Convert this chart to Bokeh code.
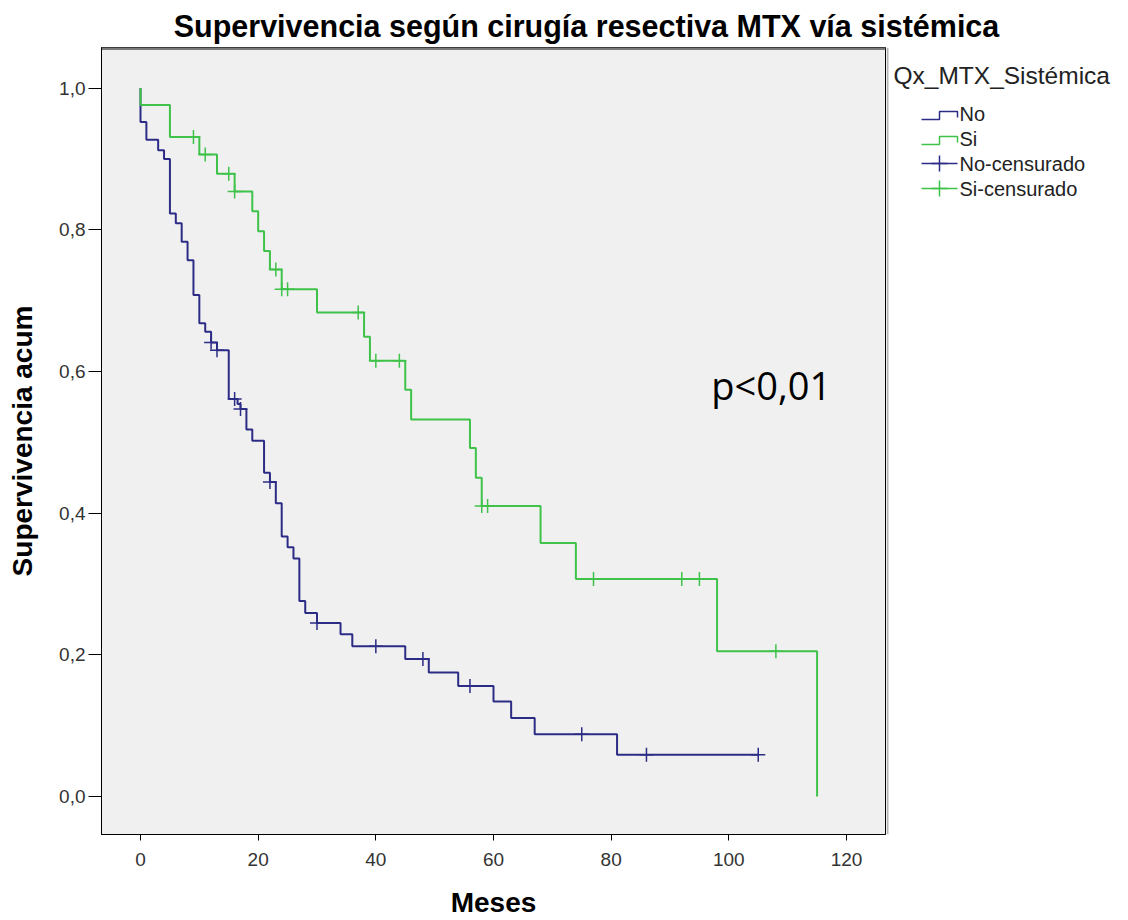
from bokeh.core.properties import value
from bokeh.embed import file_html
from bokeh.layouts import column, row
from bokeh.models import CustomJSTickFormatter, FixedTicker, Label, Range1d
from bokeh.plotting import figure
from bokeh.resources import INLINE

# Kaplan-Meier estimate, group "No": event times (months) and survival after each step
no_time = [0, 0, 1, 3, 4, 5, 6, 7, 8, 9, 10, 11, 12, 13, 15, 16.5, 17, 18, 19, 21,
           22, 23, 24, 25, 26, 27, 28, 30, 34, 36, 45, 49, 54, 60, 63, 67, 81, 105]
no_surv = [1.0, 0.952, 0.927, 0.912, 0.900, 0.823, 0.809, 0.783, 0.757, 0.708,
           0.668, 0.656, 0.641, 0.630, 0.561, 0.554, 0.547, 0.518, 0.502, 0.457,
           0.444, 0.414, 0.367, 0.352, 0.336, 0.276, 0.259, 0.245, 0.229, 0.212,
           0.194, 0.175, 0.156, 0.134, 0.111, 0.088, 0.059, 0.059]
no_cens_time = [12, 13, 16, 17, 22, 30, 40, 48, 56, 75, 86, 105]
no_cens_surv = [0.641, 0.630, 0.561, 0.547, 0.444, 0.245, 0.212, 0.194, 0.156,
                0.088, 0.059, 0.059]

# Group "Si"
si_time = [0, 0, 5, 10, 13, 16, 19, 20, 21, 22, 24, 30, 38, 39, 45, 46, 56, 57, 58,
           68, 74, 98, 115]
si_surv = [1.0, 0.976, 0.931, 0.906, 0.879, 0.854, 0.826, 0.798, 0.770, 0.744,
           0.716, 0.683, 0.649, 0.615, 0.574, 0.532, 0.492, 0.450, 0.410, 0.358,
           0.307, 0.205, 0.0]
si_cens_time = [9, 11, 15, 16, 23, 24, 25, 37, 40, 44, 58, 59, 77, 92, 95, 108]
si_cens_surv = [0.931, 0.906, 0.879, 0.854, 0.744, 0.716, 0.716, 0.683, 0.615,
                0.615, 0.410, 0.410, 0.307, 0.307, 0.307, 0.205]

x_ticks = [0, 20, 40, 60, 80, 100, 120]
y_ticks = [0.0, 0.2, 0.4, 0.6, 0.8, 1.0]
chart_title = "Supervivencia según cirugía resectiva MTX vía sistémica"
legend_title = "Qx_MTX_Sistémica"
legend_labels = ["No", "Si", "No-censurado", "Si-censurado"]

BLUE = "#2c2c86"
GREEN = "#3fc24a"
FONT = "Liberation Sans"

# page geometry (pixels)
W, H = 1128, 920
HEAD = 47            # height of the title strip
LEFT = 101           # left edge of the plotting box
BOX_RIGHT = 885      # right edge of the plotting box
BOTTOM = 86          # space under the plotting box
MAIN_W = BOX_RIGHT + 1
MAIN_H = H - HEAD

# ---------------- title strip ----------------
head = figure(width=W, height=HEAD, output_backend="svg", toolbar_location=None,
              x_range=Range1d(0, W), y_range=Range1d(HEAD, 0), min_border=0,
              x_axis_type=None, y_axis_type=None, title=None)
head.outline_line_color = None
head.grid.visible = False
head.text(x=[586], y=[25], text=[chart_title], text_font=value(FONT),
          text_font_style="bold", text_font_size="30.5px", text_color="black",
          text_align="center", text_baseline="middle")

# ---------------- survival plot ----------------
p = figure(
    width=MAIN_W, height=MAIN_H, output_backend="svg", toolbar_location=None,
    x_range=Range1d(-6.63, 126.63), y_range=Range1d(-0.0536, 1.0572),
    min_border_left=LEFT, min_border_right=1, min_border_top=0,
    min_border_bottom=BOTTOM, title=None,
)
p.background_fill_color = "#f0f0f0"
p.border_fill_color = "white"
p.outline_line_color = "black"
p.xgrid.visible = False
p.ygrid.visible = False

# darker top edge of the plotting box
p.extra_y_ranges = {"py": Range1d(H - BOTTOM, HEAD)}
p.segment(x0=[-6.63], y0=[HEAD + 1], x1=[126.63], y1=[HEAD + 1], y_range_name="py",
          line_color="#7a7a7a", line_width=3)

# survival curves
p.step(no_time, no_surv, mode="after", line_color=BLUE, line_width=2)
p.step(si_time, si_surv, mode="after", line_color=GREEN, line_width=2)
p.scatter(no_cens_time, no_cens_surv, marker="cross", size=14,
          line_color=BLUE, line_width=1.5)
p.scatter(si_cens_time, si_cens_surv, marker="cross", size=14,
          line_color=GREEN, line_width=1.5)

# axes
xa = p.xaxis[0]
xa.ticker = FixedTicker(ticks=x_ticks)
xa.axis_line_color = "black"
xa.major_tick_line_color = "black"
xa.major_tick_out = 6
xa.major_tick_in = 0
xa.minor_tick_line_color = None
xa.major_label_standoff = 12
xa.major_label_text_font = FONT
xa.major_label_text_font_size = "19px"
xa.major_label_text_color = "#333333"
xa.axis_label = "Meses"
xa.axis_label_standoff = 18
xa.axis_label_text_font = FONT
xa.axis_label_text_font_style = "bold"
xa.axis_label_text_font_size = "28px"
xa.axis_label_text_color = "black"

ya = p.yaxis[0]
ya.ticker = FixedTicker(ticks=y_ticks)
ya.formatter = CustomJSTickFormatter(code="return tick.toFixed(1).replace('.', ',');")
ya.axis_line_color = "black"
ya.major_tick_line_color = "black"
ya.major_tick_out = 13
ya.major_tick_in = 0
ya.minor_tick_line_color = None
ya.major_label_standoff = 3
ya.major_label_text_font = FONT
ya.major_label_text_font_size = "19px"
ya.major_label_text_color = "#333333"
ya.axis_label = "Supervivencia acum"
ya.axis_label_standoff = 18
ya.axis_label_text_font = FONT
ya.axis_label_text_font_style = "bold"
ya.axis_label_text_font_size = "28px"
ya.axis_label_text_color = "black"

# log-rank annotation
p.add_layout(Label(x=97, y=0.581, text="p<0,01", text_align="left",
                   text_baseline="middle", text_font="Open Sans",
                   text_font_size="38px", text_color="black"))

# ---------------- legend panel ----------------
# its frame lines up with the plotting box (same top and bottom borders)
leg = figure(width=W - MAIN_W, height=MAIN_H, output_backend="svg",
             toolbar_location=None, x_range=Range1d(MAIN_W, W),
             y_range=Range1d(H - BOTTOM, HEAD),
             min_border_left=0, min_border_right=0, min_border_top=0,
             min_border_bottom=BOTTOM,
             x_axis_type=None, y_axis_type=None, title=None)
leg.outline_line_color = None
leg.grid.visible = False

# light shadow along the right edge of the plotting box
leg.segment(x0=[MAIN_W + 1], y0=[HEAD], x1=[MAIN_W + 1], y1=[H - BOTTOM],
            line_color="#b5b5b5", line_width=2)

leg_x0, leg_x1 = 921, 957
row_y = [113, 138, 163, 188]
leg.text(x=[893], y=[75], text=[legend_title], text_font=value(FONT),
         text_font_size="24.5px", text_color="#222222",
         text_align="left", text_baseline="middle")
leg.text(x=[leg_x1 + 2] * 4, y=row_y, text=legend_labels, text_font=value(FONT),
         text_font_size="20px", text_color="#222222",
         text_align="left", text_baseline="middle")
mid = (leg_x0 + leg_x1) / 2
for yc, col in zip(row_y[:2], [BLUE, GREEN]):
    leg.line(x=[leg_x0, mid, mid, leg_x1, leg_x1], y=[yc + 6, yc + 6, yc - 2, yc - 2, yc + 4],
             line_color=col, line_width=1.5)
for yc, col in zip(row_y[2:], [BLUE, GREEN]):
    leg.segment(x0=[leg_x0], y0=[yc], x1=[leg_x1], y1=[yc], line_color=col, line_width=1.5)
    leg.scatter(x=[mid], y=[yc], marker="cross", size=16, line_color=col, line_width=1.5)

layout = column(head, row(p, leg, spacing=0), spacing=0)
open("out.html", "w").write(file_html(layout, INLINE))
